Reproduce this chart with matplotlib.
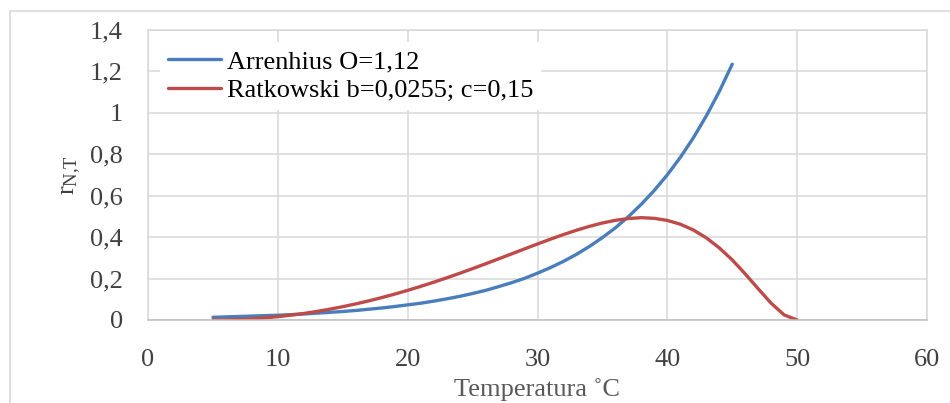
import matplotlib
matplotlib.use('Agg')
import matplotlib.pyplot as plt
from matplotlib.patches import Rectangle
from matplotlib.ticker import FuncFormatter, MultipleLocator

# Temperature (deg C) and values
temp_arr = [5, 6, 7, 8, 9, 10, 11, 12, 13, 14, 15, 16, 17, 18, 19, 20,
            21, 22, 23, 24, 25, 26, 27, 28, 29, 30, 31, 32, 33, 34, 35,
            36, 37, 38, 39, 40, 41, 42, 43, 44, 45]
arrhenius = [0.013, 0.015, 0.017, 0.019, 0.021, 0.023, 0.026, 0.029, 0.033,
             0.037, 0.041, 0.046, 0.052, 0.058, 0.065, 0.073, 0.081, 0.091,
             0.102, 0.114, 0.128, 0.143, 0.161, 0.180, 0.201, 0.226, 0.253,
             0.283, 0.317, 0.355, 0.398, 0.445, 0.499, 0.559, 0.626, 0.701,
             0.785, 0.879, 0.985, 1.103, 1.235]

temp_rat = [5, 6, 7, 8, 9, 10, 11, 12, 13, 14, 15, 16, 17, 18, 19, 20,
            21, 22, 23, 24, 25, 26, 27, 28, 29, 30, 31, 32, 33, 34, 35,
            36, 37, 38, 39, 40, 41, 42, 43, 44, 45, 46, 47, 48, 49, 50]
ratkowski = [0.0, 0.0007, 0.0026, 0.0058, 0.0104, 0.0162, 0.0233, 0.0316,
             0.0413, 0.0522, 0.0643, 0.0777, 0.0923, 0.1081, 0.1250, 0.1431,
             0.1622, 0.1823, 0.2034, 0.2253, 0.2480, 0.2713, 0.2951, 0.3191,
             0.3431, 0.3670, 0.3902, 0.4125, 0.4333, 0.4521, 0.4684, 0.4812,
             0.4899, 0.4940, 0.4907, 0.4807, 0.4624, 0.4347, 0.3968, 0.3483,
             0.2900, 0.2225, 0.1506, 0.0808, 0.0244, 0.0]

labels = ['Arrenhius O=1,12', 'Ratkowski b=0,0255; c=0,15']

plt.rcParams['font.family'] = 'serif'
plt.rcParams['font.serif'] = ['Liberation Serif', 'DejaVu Serif']
plt.rcParams['mathtext.fontset'] = 'custom'
plt.rcParams['mathtext.rm'] = 'Liberation Serif'
plt.rcParams['mathtext.it'] = 'Liberation Serif'

fig = plt.figure(figsize=(9.5, 4.03), dpi=100)
ax = fig.add_axes([148 / 950, 1 - 320 / 403, 779 / 950, 290 / 403])

# outer chart border
fig.patches.append(Rectangle((10 / 950, -0.1), 1.0, (403 - 11) / 403 + 0.1,
                             transform=fig.transFigure, fill=False,
                             edgecolor='#d9d9d9', linewidth=1.2))

ax.plot(temp_arr, arrhenius, color='#4a7ebb', lw=2.4, label=labels[0],
        solid_capstyle='round')
ax.plot(temp_rat, ratkowski, color='#be4b48', lw=2.4, label=labels[1],
        solid_capstyle='round')

ax.set_xlim(0, 60)
ax.set_ylim(0, 1.4)
ax.xaxis.set_major_locator(MultipleLocator(10))
ax.yaxis.set_major_locator(MultipleLocator(0.2))


def comma_fmt(v, pos):
    s = ('%.1f' % v).rstrip('0').rstrip('.')
    return s.replace('.', ',')


ax.yaxis.set_major_formatter(FuncFormatter(comma_fmt))
ax.grid(True, color='#d9d9d9', lw=1.1)
ax.set_axisbelow(True)
for side in ['top', 'right', 'left']:
    ax.spines[side].set_color('#d9d9d9')
    ax.spines[side].set_linewidth(1.1)
ax.spines['bottom'].set_color('#bfbfbf')
ax.spines['bottom'].set_linewidth(1.1)
ax.tick_params(length=0, labelsize=19, colors='#404040')
ax.tick_params(axis='y', pad=18)
ax.tick_params(axis='x', pad=21)

ax.set_xlabel('Temperatura ˚C', fontsize=19, color='#595959', labelpad=5)
ax.set_ylabel(r'$\mathrm{r_{N{,}T}}$', fontsize=19, color='#404040', labelpad=5)

leg = ax.legend(loc='upper left', frameon=True, fontsize=19, handlelength=2.0,
                borderaxespad=0.45, labelspacing=0.2, handletextpad=0.25,
                borderpad=0.3, fancybox=False)
leg.get_frame().set_edgecolor('none')
leg.get_frame().set_facecolor('white')
leg.get_frame().set_alpha(1)

fig.savefig('out.png', dpi=100)
